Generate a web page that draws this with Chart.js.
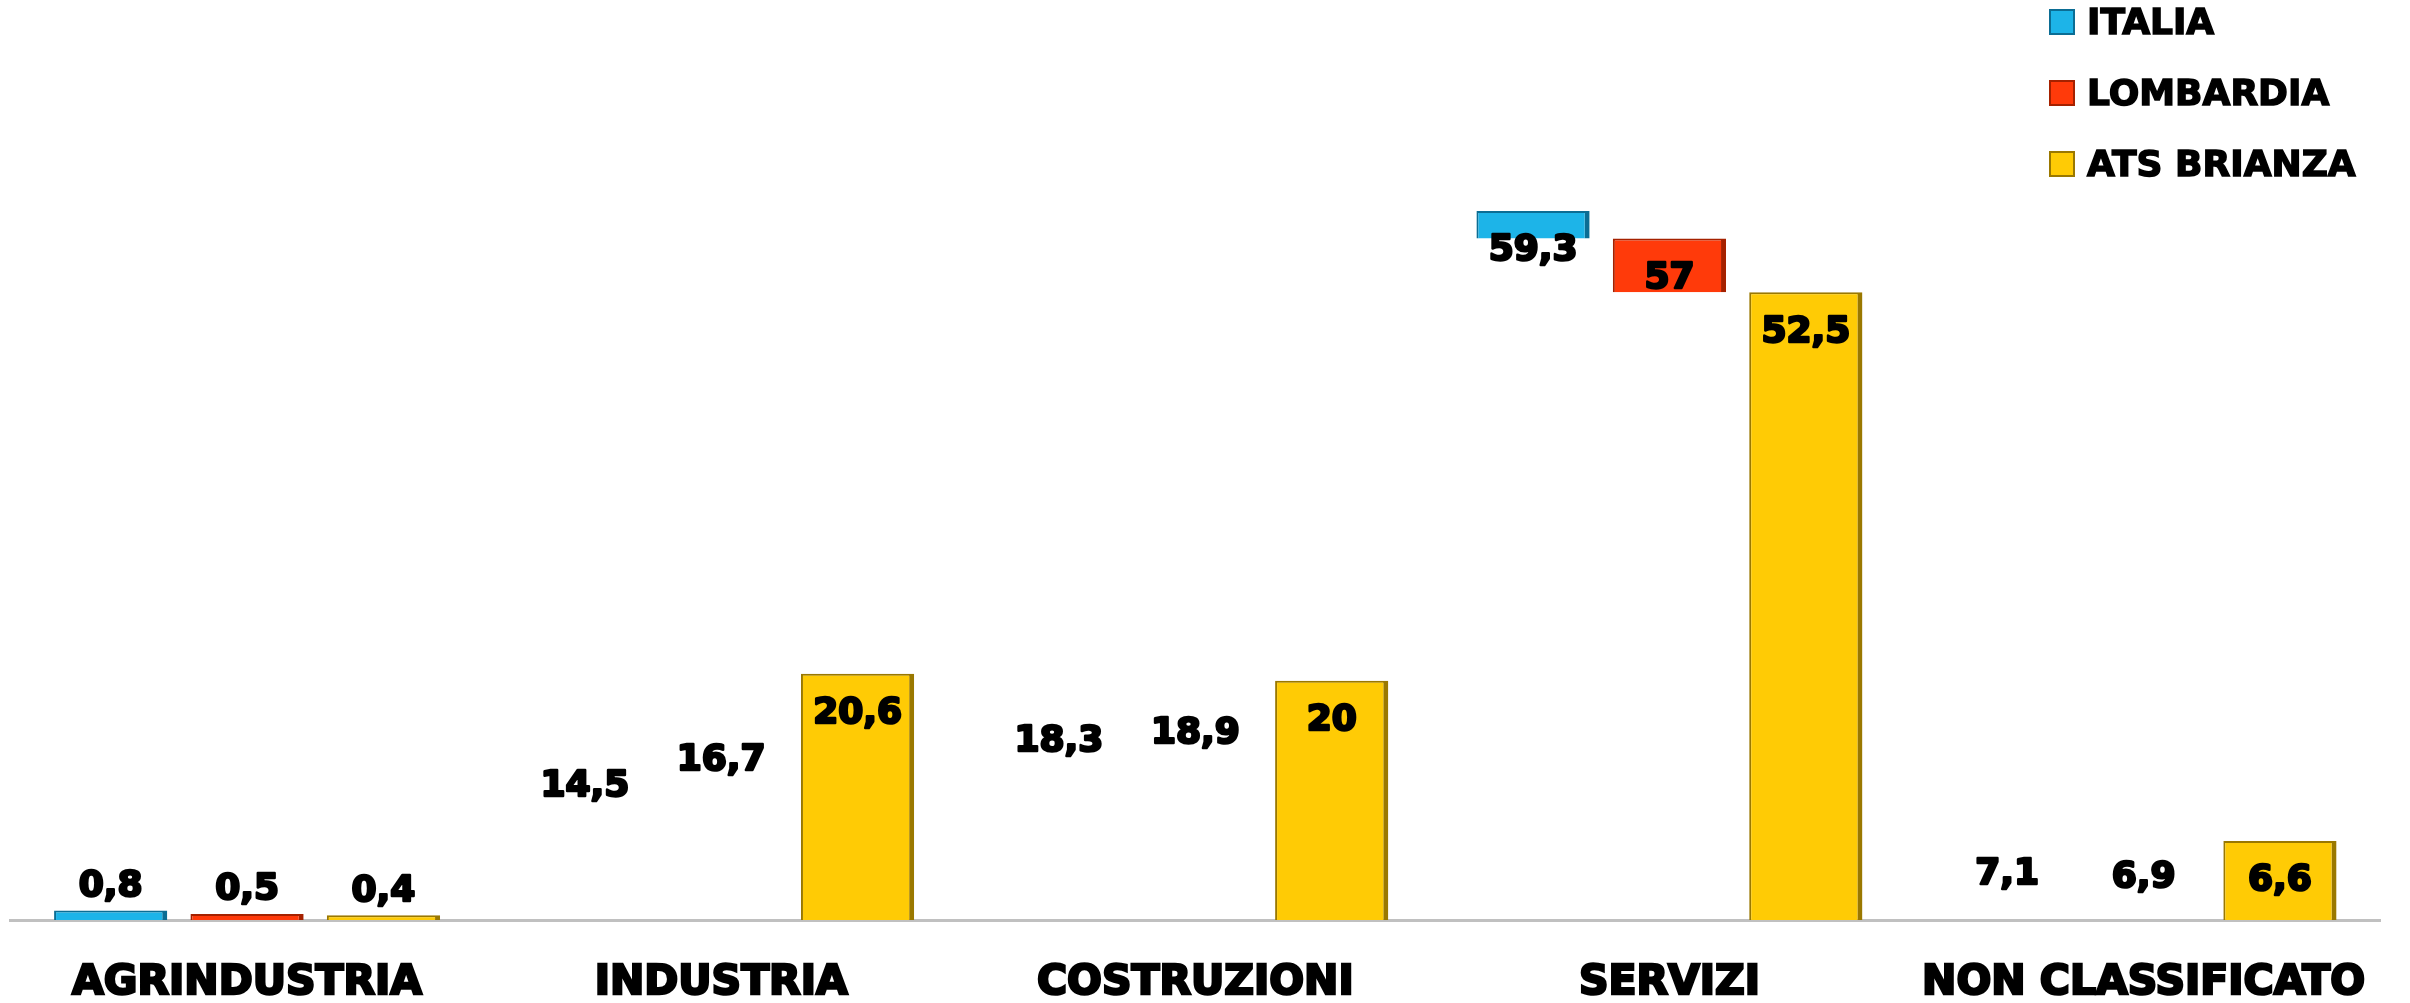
<!DOCTYPE html>
<html>
<head>
<meta charset="utf-8">
<script src="https://cdn.jsdelivr.net/npm/chart.js@4.4.1/dist/chart.umd.min.js"></script>
<style>
  body { margin: 0; background: #fff; }
  #wrap { position: relative; width: 2410px; height: 1003px; }
  #legend { position: absolute; left: 2049px; top: 0; font: bold 36px "DejaVu Sans", sans-serif; -webkit-text-stroke: 1.5px #000; }
  .item { position: absolute; left: 0; white-space: nowrap; height: 40px; line-height: 40px; }
  .box { position: absolute; left: 0; top: 7px; width: 26px; height: 26px; box-sizing: border-box; -webkit-text-stroke: 0; }
  .txt { position: absolute; left: 38px; top: 0; }
</style>
</head>
<body>
<div id="wrap">
  <canvas id="myChart"></canvas>
  <div id="legend"></div>
</div>
<script>
const categories = ["AGRINDUSTRIA", "INDUSTRIA", "COSTRUZIONI", "SERVIZI", "NON CLASSIFICATO"];
const seriesNames = ["ITALIA", "LOMBARDIA", "ATS BRIANZA"];

const italia = [0.8, 14.5, 18.3, 59.3, 7.1];
const lombardia = [0.5, 16.7, 18.9, 57, 6.9];
const atsBrianza = [0.4, 20.6, 20, 52.5, 6.6];

// the original only paints part of some bars: value where the painted part starts (null = not painted)
const italiaFrom = [0, null, null, 57, null];
const lombardiaFrom = [0, null, null, 52.5, null];
const atsBrianzaFrom = [0, 0, 0, 0, 0];

const fills = ["#1db4e8", "#ff3a0a", "#ffcb05"];
const edges = ["#0b6d94", "#a52100", "#9a7800"];

function floating(values, from) {
  return values.map((v, i) => (from[i] === null ? [v, v] : [from[i], v]));
}

const allValues = [italia, lombardia, atsBrianza];
const allFrom = [italiaFrom, lombardiaFrom, atsBrianzaFrom];

// etichette dei valori
const valueLabels = {
  id: "valueLabels",
  afterDatasetsDraw(chart) {
    const ctx = chart.ctx;
    const yScale = chart.scales.y;
    ctx.save();
    ctx.font = "bold 36px 'DejaVu Sans', sans-serif";
    ctx.fillStyle = "#000";
    ctx.strokeStyle = "#000";
    ctx.lineWidth = 2.5;
    ctx.lineJoin = "round";
    ctx.textAlign = "center";
    ctx.textBaseline = "middle";
    chart.data.datasets.forEach((ds, d) => {
      const meta = chart.getDatasetMeta(d);
      meta.data.forEach((bar, i) => {
        const v = allValues[d][i];
        const top = yScale.getPixelForValue(v);
        const y = v < 2 ? top - 24 : top + 40;
        const txt = String(v).replace(".", ",");
        ctx.strokeText(txt, bar.x, y);
        ctx.fillText(txt, bar.x, y);
      });
    });
    ctx.restore();
  },
};

const ctx = document.getElementById("myChart").getContext("2d");
const chart = new Chart(ctx, {
  type: "bar",
  data: {
    labels: categories,
    datasets: seriesNames.map((name, d) => ({
      label: name,
      data: floating(allValues[d], allFrom[d]),
      backgroundColor: fills[d],
      borderColor: edges[d],
      borderWidth: { left: 2, right: 5, top: 2, bottom: 0 },
      borderSkipped: false,
      categoryPercentage: 0.863,
      barPercentage: 0.83,
    })),
  },
  options: {
    responsive: true,
    maintainAspectRatio: false,
    animation: false,
    layout: { padding: { top: 83, left: 10, right: 20, bottom: 4 } },
    plugins: {
      legend: { display: false },
      tooltip: { enabled: false },
    },
    scales: {
      x: {
        grid: { display: false, drawTicks: false },
        border: { display: true, color: "#c0c0c0", width: 3 },
        ticks: {
          color: "#000",
          padding: 43,
          textStrokeColor: "#000",
          textStrokeWidth: 2.5,
          font: { family: "'DejaVu Sans', sans-serif", size: 41, weight: "bold", lineHeight: 1 },
          maxRotation: 0,
          autoSkip: false,
        },
        afterFit(scale) {
          scale.height = 79;
        },
      },
      y: {
        display: false,
        min: 0,
        max: 70,
      },
    },
  },
  plugins: [valueLabels],
});

// legenda
const legend = document.getElementById("legend");
seriesNames.forEach((name, d) => {
  const item = document.createElement("div");
  item.className = "item";
  item.style.top = 2 + d * 71 + "px";
  item.innerHTML =
    '<span class="box" style="background:' + fills[d] + ";border:2px solid " + edges[d] + '"></span>' +
    '<span class="txt">' + name + "</span>";
  legend.appendChild(item);
});
</script>
</body>
</html>
